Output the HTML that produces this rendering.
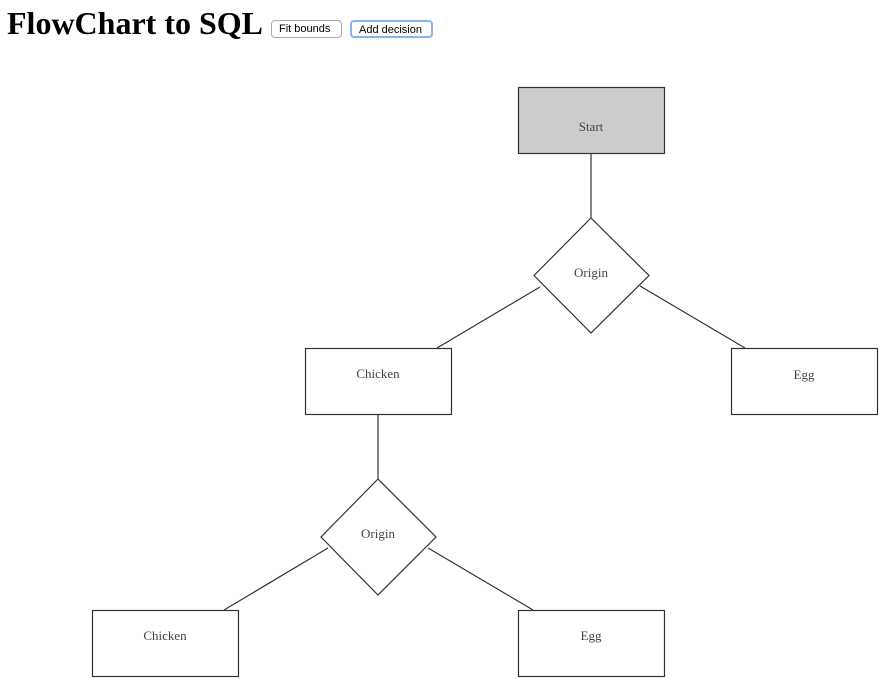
<!DOCTYPE html>
<html><head><style>
body{margin:0;width:893px;height:690px;background:#fff;position:relative;overflow:hidden;font-family:"Liberation Serif",serif}
h1{position:absolute;left:7px;top:3px;margin:0;font-size:32px;font-weight:bold;line-height:40px}
.b{position:absolute;top:20px;height:18px;font:11px "Liberation Sans",sans-serif;background:#fff;border:1px solid #aaa;border-radius:4px;padding:0 7px;line-height:16px;box-sizing:border-box}
</style></head><body>
<h1>FlowChart to SQL</h1>
<div class="b" style="left:271px;width:71px">Fit bounds</div>
<div class="b" style="left:350px;width:83px;border:2px solid #8ab4f0">Add decision</div>
<svg width="893" height="690" style="position:absolute;left:0;top:0" font-family="Liberation Serif, serif" font-size="13" fill="#444">
<g stroke="#333" stroke-width="1.2">
<line x1="591" y1="153" x2="591" y2="218"/>
<line x1="540" y1="287" x2="437" y2="348"/>
<line x1="640" y1="286" x2="745" y2="348"/>
<line x1="378" y1="414" x2="378" y2="479"/>
<line x1="328" y1="548" x2="224" y2="610"/>
<line x1="428" y1="548" x2="533" y2="610"/>
<rect x="518.5" y="87.5" width="146" height="66" fill="#ccc"/>
<polygon points="591,218 649,275.5 591,333 534,275.5" fill="#fff"/>
<rect x="305.5" y="348.5" width="146" height="66" fill="#fff"/>
<rect x="731.5" y="348.5" width="146" height="66" fill="#fff"/>
<polygon points="378,479 436,537 378,595 321,537" fill="#fff"/>
<rect x="92.5" y="610.5" width="146" height="66" fill="#fff"/>
<rect x="518.5" y="610.5" width="146" height="66" fill="#fff"/>
</g>
<g text-anchor="middle">
<text x="591" y="131">Start</text>
<text x="591" y="277">Origin</text>
<text x="378" y="378">Chicken</text>
<text x="804" y="379">Egg</text>
<text x="378" y="538">Origin</text>
<text x="165" y="640">Chicken</text>
<text x="591" y="640">Egg</text>
</g>
</svg>
</body></html>
